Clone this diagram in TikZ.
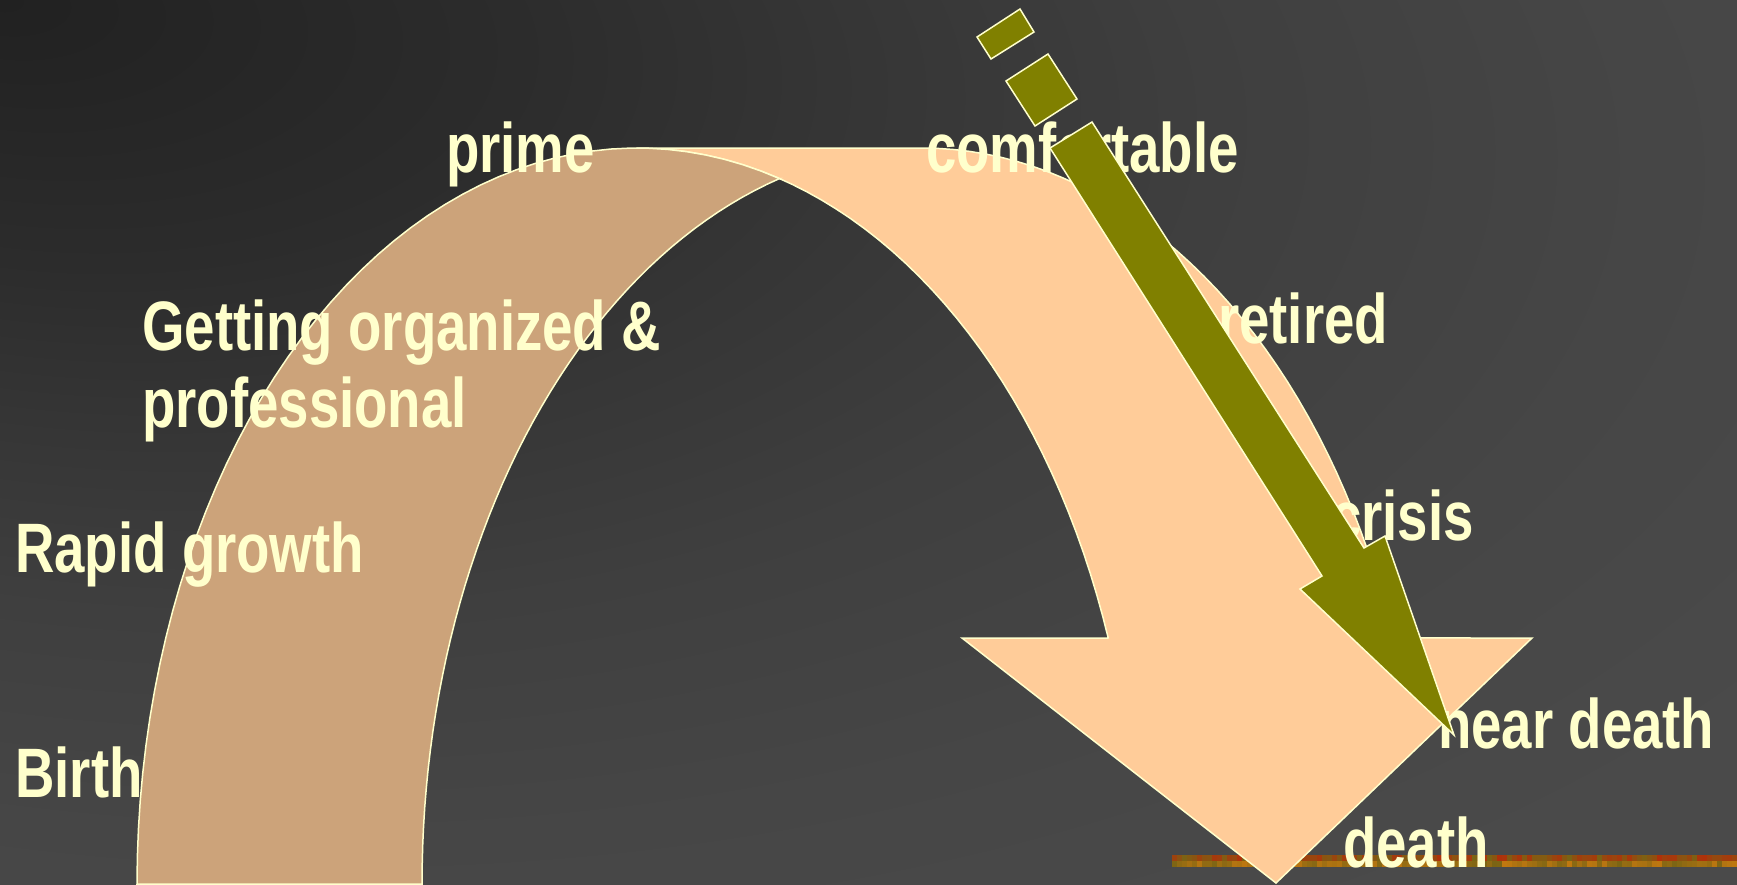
\documentclass[tikz,border=0pt]{standalone}
\usepackage{fontspec}
\newfontfamily\labelfont[FakeStretch=0.78]{Liberation Sans}
\usepackage{tikz}
\usetikzlibrary{calc}

\definecolor{bgA}{HTML}{212121}
\definecolor{bgB}{HTML}{2C2C2C}
\definecolor{bgC}{HTML}{363636}
\definecolor{bgD}{HTML}{3F3F3F}
\definecolor{bgE}{HTML}{464646}
\definecolor{bgF}{HTML}{4A4A4A}
\definecolor{rim}{HTML}{FFFFCC}
\definecolor{peach}{HTML}{FFCC99}
\definecolor{tan}{HTML}{CCA37A}
\definecolor{dartolive}{HTML}{808000}
\definecolor{stripA}{HTML}{C07810}
\definecolor{stripB}{HTML}{B0300A}
\definecolor{stripC}{HTML}{7A6414}

\pgfdeclareradialshading{bgglow}{\pgfpoint{-25bp}{25bp}}{color(0bp)=(bgA); color(12bp)=(bgB); color(20bp)=(bgC); color(28bp)=(bgD); color(38bp)=(bgE); color(48bp)=(bgF); color(100bp)=(bgF)}

\tikzset{
  band/.style={draw=rim, line width=1.5pt},
  dart/.style={fill=dartolive, draw=rim, line width=1.5pt},
  tag/.style={text=rim, font=\labelfont\bfseries\fontsize{70}{77}\selectfont, anchor=base west, inner sep=0pt},
}

\begin{document}
\begin{tikzpicture}[x=1pt, y=-1pt]
		\useasboundingbox (0,0) rectangle (1737,884);
		\shade[shading=bgglow] (0,0) rectangle (1737,884);
		% textured strip, bottom right
		\fill[stripA] (1172,855) rectangle (1737,867);
		\pgfmathsetseed{11}
		\foreach \i in {0,...,112}{
			\pgfmathsetmacro\m{int(100*rnd)}
			\pgfmathsetmacro\n{int(100*rnd)}
			\fill[stripB!\m!stripC] ({1172+5*\i},855) rectangle ++(5,6);
			\fill[stripC!\n!stripA] ({1172+5*\i},861) rectangle ++(5,6);
		}
		\coordinate (topA) at (637,148);   % top of inner arc
		\coordinate (topB) at (922,148);   % top of outer arc
		\coordinate (wingR) at (1532,638); % right wing
		\coordinate (tip) at (1276,883);   % arrow tip
		\coordinate (wingL) at (962,638);  % left wing
		\coordinate (neckL) at (1108,638); % inner arc meets base
		\draw[band, fill=peach] (topA) -- (topB)
			-- plot[domain=270:340.47, samples=40, variable=\t] ({922+500*cos(\t)}, {884+736*sin(\t)})
			-- (wingR) -- (tip) -- (wingL) -- (neckL)
			-- plot[domain=340.47:270, samples=40, variable=\t] ({637+500*cos(\t)}, {884+736*sin(\t)})
			-- cycle;
		\draw[band, fill=tan] plot[domain=180:286.56, samples=50, variable=\t] ({637+500*cos(\t)}, {884+736*sin(\t)})
			-- plot[domain=253.44:180, samples=50, variable=\t] ({922+500*cos(\t)}, {884+736*sin(\t)})
			-- cycle;
		\node[tag] (birth) at (15,797) {Birth};
		\node[tag] (growth) at (15,572) {Rapid growth};
		\node[tag, align=left] (organized) at (142,427) {Getting organized \&\\professional};
		\node[tag] (prime) at (446,172) {prime};
		\node[tag] (comfortable) at (926,172) {comfortable};
		\node[tag] (retired) at (1218,343) {retired};
		\node[tag] (crisis) at (1331,540) {crisis};
		\node[tag] (neardeath) at (1438,748) {near death};
		\node[tag] (death) at (1343,867) {death};
		% falling olive arrow
		\draw[dart] (977,37) -- (1020,9) -- (1034,32) -- (991,59) -- cycle;
		\draw[dart] (1006,81) -- (1048,54) -- (1077,99) -- (1035,126) -- cycle;
		\draw[dart] (1050,148) -- (1322,576) -- (1300,589) -- (1454,735) -- (1385,536) -- (1364,548) -- (1092,122) -- cycle;
	\end{tikzpicture}
\end{document}
